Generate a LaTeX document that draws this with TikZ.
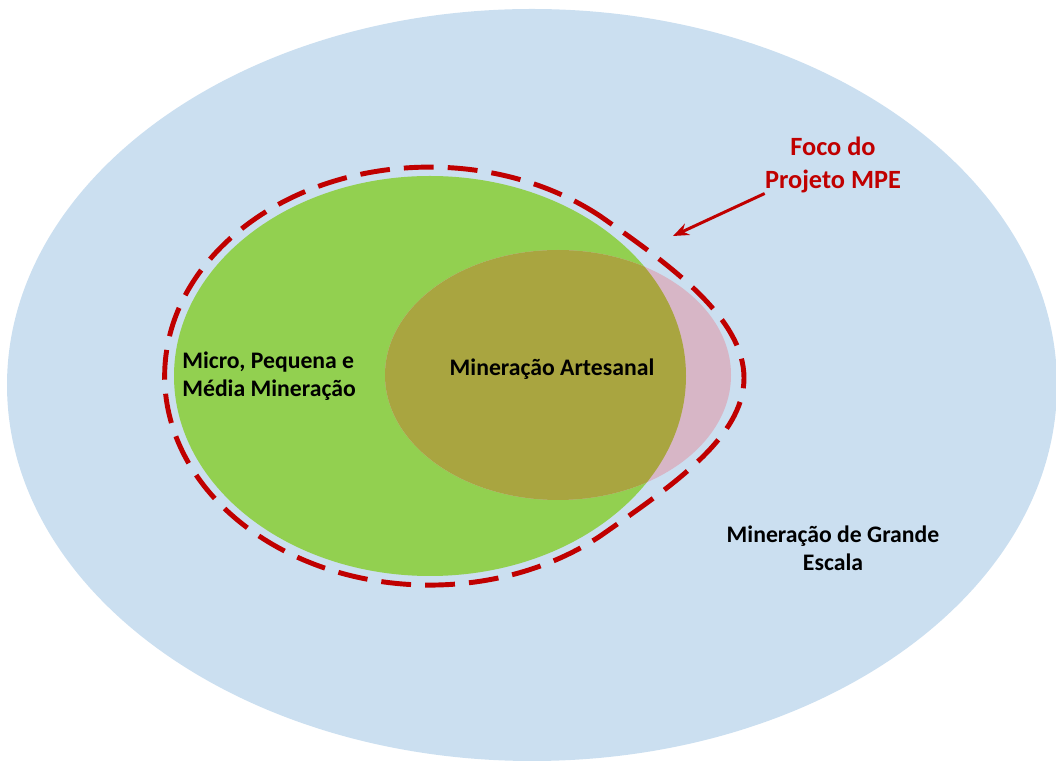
\documentclass[tikz,border=0pt]{standalone}
\usepackage{fontspec}
\setmainfont{Carlito}
\usepackage{tikz}
\usetikzlibrary{arrows.meta,positioning}
\definecolor{skyfill}{HTML}{CBDFF0}
\definecolor{leaf}{HTML}{92D050}
\definecolor{olive}{HTML}{A9A540}
\definecolor{rosa}{HTML}{D7B6C6}
\definecolor{redline}{HTML}{C00000}
\tikzset{
  labeltext/.style={
    font=\fontsize{13.5}{16}\selectfont\bfseries, text=black,
    align=#1, inner sep=0pt
  },
  labeltext/.default=center,
  focotext/.style={
    font=\fontsize{15}{19}\selectfont\bfseries, text=redline,
    align=center, inner sep=0pt
  },
  focoline/.style={
    draw=redline, line width=2.8pt, dash pattern=on 17pt off 8pt
  },
  pointer/.style={
    -{Stealth[length=9pt,width=7pt]}, line width=1.7pt, color=redline
  },
}
\begin{document}
\begin{tikzpicture}[x=0.02cm, y=-0.02cm]
  \useasboundingbox (0,0) rectangle (1056,766);

  % Grande escala
  \fill[skyfill] (532,385) ellipse[x radius=525, y radius=376];

  % MPE e artesanal
  \fill[leaf] (430,376) ellipse[x radius=256, y radius=200];
  \fill[rosa] (558,375) ellipse[x radius=173, y radius=125];
  \begin{scope}
    \clip (430,376) ellipse[x radius=256, y radius=200];
    \fill[olive] (558,375) ellipse[x radius=173, y radius=125];
  \end{scope}

  % Foco do projeto
  \draw[focoline] (600,216) arc[start angle=-50, end angle=-310, x radius=265, y radius=209]
    .. controls (670,487) and (744,438) .. (744,378)
    .. controls (744,318) and (670,265) .. (600,216) -- cycle;

  \node[labeltext=left, anchor=west] (mpe) at (182,376)
    {Micro, Pequena e\\Média Mineração};
  \node[labeltext] (artesanal) at (552,369) {Mineração Artesanal};
  \node[labeltext] (grande) at (833,548) {Mineração de Grande\\Escala};
  \node[focotext] (foco) at (833,165) {Foco do\\Projeto MPE};

  \coordinate (focotip) at (673,236);
  \draw[pointer] (foco.south west) -- (focotip);
\end{tikzpicture}
\end{document}
